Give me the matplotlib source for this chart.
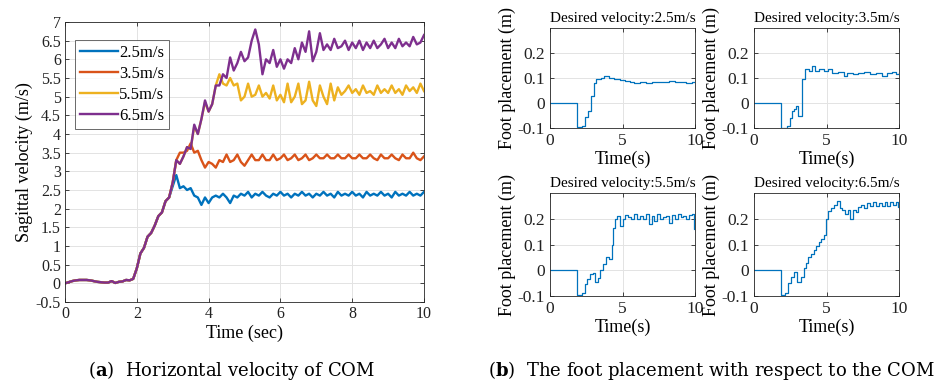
import numpy as np
import matplotlib
matplotlib.use("Agg")
import matplotlib.pyplot as plt

# ---------------- data: (a) sagittal velocity ----------------
t_common = [0.0, 0.1, 0.2, 0.3, 0.4, 0.5, 0.6, 0.7, 0.8, 0.9, 1.0, 1.1, 1.2, 1.3, 1.4,
            1.5, 1.6, 1.7, 1.8, 1.9, 2.0, 2.1, 2.2, 2.3, 2.4, 2.5, 2.6, 2.7, 2.8, 2.9]
v_common = [0.00, 0.03, 0.06, 0.08, 0.09, 0.09, 0.09, 0.08, 0.06, 0.04, 0.03, 0.02, 0.02, 0.06, 0.01,
            0.04, 0.05, 0.09, 0.08, 0.12, 0.40, 0.80, 0.95, 1.25, 1.35, 1.55, 1.80, 1.90, 2.20, 2.30]

t_late = [3.0, 3.1, 3.2, 3.3, 3.4, 3.5, 3.6, 3.7, 3.8, 3.9, 4.0, 4.1, 4.2, 4.3, 4.4, 4.5, 4.6, 4.7,
          4.8, 4.9, 5.0, 5.1, 5.2, 5.3, 5.4, 5.5, 5.6, 5.7, 5.8, 5.9, 6.0, 6.1, 6.2, 6.3, 6.4, 6.5,
          6.6, 6.7, 6.8, 6.9, 7.0, 7.1, 7.2, 7.3, 7.4, 7.5, 7.6, 7.7, 7.8, 7.9, 8.0, 8.1, 8.2, 8.3,
          8.4, 8.5, 8.6, 8.7, 8.8, 8.9, 9.0, 9.1, 9.2, 9.3, 9.4, 9.5, 9.6, 9.7, 9.8, 9.9, 10.0]

v_25 = [2.60, 2.90, 2.55, 2.60, 2.50, 2.55, 2.35, 2.30, 2.10, 2.30, 2.15, 2.30, 2.35, 2.30, 2.40, 2.30, 2.15, 2.35,
        2.30, 2.40, 2.35, 2.45, 2.30, 2.40, 2.35, 2.45, 2.35, 2.30, 2.40, 2.35, 2.45, 2.35, 2.40, 2.30, 2.40, 2.35,
        2.45, 2.35, 2.40, 2.30, 2.40, 2.35, 2.45, 2.35, 2.40, 2.30, 2.45, 2.35, 2.40, 2.35, 2.45, 2.35, 2.40, 2.30,
        2.45, 2.35, 2.40, 2.35, 2.45, 2.35, 2.40, 2.30, 2.45, 2.35, 2.40, 2.35, 2.45, 2.35, 2.40, 2.35, 2.45]

v_35 = [2.70, 3.30, 3.50, 3.50, 3.55, 3.75, 3.50, 3.55, 3.30, 3.10, 3.25, 3.20, 3.10, 3.30, 3.25, 3.45, 3.25, 3.30,
        3.45, 3.25, 3.15, 3.30, 3.45, 3.30, 3.30, 3.45, 3.30, 3.30, 3.45, 3.30, 3.35, 3.45, 3.30, 3.35, 3.45, 3.30,
        3.35, 3.45, 3.30, 3.35, 3.45, 3.35, 3.35, 3.45, 3.35, 3.35, 3.45, 3.35, 3.35, 3.45, 3.35, 3.35, 3.45, 3.35,
        3.35, 3.45, 3.35, 3.30, 3.45, 3.35, 3.35, 3.45, 3.35, 3.30, 3.45, 3.35, 3.35, 3.50, 3.35, 3.30, 3.40]

v_55 = [2.70, 3.30, 3.20, 3.40, 3.65, 3.60, 4.20, 4.00, 4.40, 4.85, 4.60, 4.80, 5.30, 5.60, 5.35, 5.30, 5.50, 5.30,
        5.35, 4.90, 5.00, 5.35, 5.00, 5.05, 5.30, 5.00, 5.10, 4.95, 5.30, 4.90, 5.05, 4.85, 5.35, 4.85, 5.00, 5.35,
        4.80, 4.90, 5.40, 4.90, 4.75, 5.30, 5.00, 4.80, 5.35, 4.90, 5.25, 5.05, 5.15, 5.30, 5.10, 5.20, 5.05, 5.30,
        5.10, 5.15, 5.05, 5.30, 5.10, 5.20, 5.10, 5.30, 5.10, 5.20, 5.05, 5.30, 5.15, 5.25, 5.10, 5.35, 5.15]

v_65 = [2.70, 3.30, 3.20, 3.40, 3.65, 3.60, 4.25, 4.00, 4.40, 4.90, 4.60, 4.80, 5.30, 5.30, 5.60, 5.50, 6.05, 5.70,
        5.90, 6.20, 5.95, 6.05, 6.50, 6.80, 6.40, 5.60, 6.00, 5.90, 6.25, 5.80, 6.00, 5.75, 6.00, 5.90, 6.30, 6.00,
        6.45, 6.20, 6.75, 5.95, 6.20, 6.70, 6.25, 6.40, 6.25, 6.55, 6.30, 6.35, 6.50, 6.25, 6.45, 6.30, 6.50, 6.25,
        6.45, 6.30, 6.50, 6.30, 6.40, 6.55, 6.30, 6.45, 6.30, 6.55, 6.35, 6.45, 6.35, 6.60, 6.40, 6.45, 6.65]

vel_labels = ["2.5m/s", "3.5m/s", "5.5m/s", "6.5m/s"]
vel_colors = ["#0072BD", "#D95319", "#EDB120", "#7E2F8E"]

# ---------------- data: (b) foot placement ----------------
fp_t_25 = [0, 1.85, 2.2, 2.4, 2.6, 2.85, 3.0, 3.2, 3.5, 3.75, 4.1, 4.4, 4.8, 5.2, 5.5, 5.8, 6.2, 6.6,
           7.0, 7.4, 7.8, 8.2, 8.6, 9.0, 9.4, 9.8, 10]
fp_v_25 = [0, -0.097, -0.09, -0.055, -0.03, 0.03, 0.08, 0.095, 0.10, 0.108, 0.10, 0.095, 0.092, 0.09,
           0.085, 0.08, 0.085, 0.082, 0.083, 0.086, 0.085, 0.088, 0.084, 0.086, 0.082, 0.085, 0.085]

fp_t_35 = [0, 1.86, 2.25, 2.45, 2.6, 2.75, 2.9, 3.05, 3.3, 3.5, 3.8, 4.0, 4.2, 4.5, 4.8, 5.1, 5.4, 5.8,
           6.2, 6.4, 6.8, 7.2, 7.6, 8.0, 8.4, 8.8, 9.2, 9.5, 9.8, 10]
fp_v_35 = [0, -0.098, -0.09, -0.06, -0.03, -0.025, -0.01, -0.05, 0.095, 0.135, 0.13, 0.148, 0.13, 0.135,
           0.13, 0.135, 0.12, 0.125, 0.11, 0.12, 0.118, 0.12, 0.125, 0.115, 0.12, 0.11, 0.12, 0.125, 0.118, 0.12]

fp_t_55 = [0, 1.85, 2.2, 2.4, 2.55, 2.75, 2.95, 3.1, 3.3, 3.45, 3.65, 3.85, 4.05, 4.25, 4.35, 4.5, 4.65,
           4.8, 5.0, 5.2, 5.4, 5.6, 5.8, 6.0, 6.2, 6.4, 6.6, 6.8, 7.0, 7.2, 7.4, 7.6, 7.8, 8.0, 8.2, 8.4,
           8.6, 8.8, 9.0, 9.2, 9.4, 9.6, 9.8, 9.95, 10]
fp_v_55 = [0, -0.097, -0.09, -0.055, -0.035, -0.015, -0.01, -0.045, -0.03, 0.0, 0.025, 0.05, 0.045, 0.1,
           0.165, 0.2, 0.21, 0.17, 0.2, 0.215, 0.205, 0.2, 0.22, 0.2, 0.21, 0.2, 0.22, 0.18, 0.21, 0.19,
           0.22, 0.2, 0.205, 0.21, 0.185, 0.215, 0.2, 0.22, 0.205, 0.21, 0.2, 0.215, 0.22, 0.16, 0.16]

fp_t_65 = [0, 1.86, 2.16, 2.32, 2.55, 2.78, 2.94, 3.24, 3.47, 3.6, 3.75, 3.95, 4.15, 4.3, 4.45, 4.6, 4.8,
           4.97, 5.1, 5.3, 5.5, 5.7, 5.9, 6.1, 6.3, 6.45, 6.6, 6.8, 7.0, 7.2, 7.4, 7.6, 7.8, 8.0, 8.2, 8.4,
           8.6, 8.8, 9.0, 9.2, 9.4, 9.6, 9.8, 9.95, 10]
fp_v_65 = [0, -0.097, -0.09, -0.05, -0.025, -0.008, -0.045, -0.025, 0.01, 0.03, 0.05, 0.065, 0.08, 0.095,
           0.11, 0.12, 0.135, 0.2, 0.23, 0.24, 0.255, 0.27, 0.24, 0.235, 0.22, 0.235, 0.2, 0.235, 0.225,
           0.245, 0.255, 0.24, 0.26, 0.25, 0.265, 0.25, 0.26, 0.25, 0.265, 0.25, 0.265, 0.255, 0.265, 0.245, 0.245]

fp_titles = ["Desired velocity:2.5m/s", "Desired velocity:3.5m/s",
             "Desired velocity:5.5m/s", "Desired velocity:6.5m/s"]

# ---------------- drawing ----------------
SERIF = ["Liberation Serif", "DejaVu Serif"]
plt.rcParams["font.family"] = SERIF
plt.rcParams["mathtext.fontset"] = "dejavuserif"
W, H = 946, 385
fig = plt.figure(figsize=(W / 100, H / 100), dpi=100)

AXC = "#262626"
GRIDC = "#e3e3e3"


def px_axes(x0, y0, x1, y1):
    return fig.add_axes([x0 / W, 1 - y1 / H, (x1 - x0) / W, (y1 - y0) / H])


def style(ax):
    for s in ax.spines.values():
        s.set_color(AXC)
        s.set_linewidth(0.6)
    ax.tick_params(direction="in", top=True, right=True, color=AXC, length=3, width=0.6,
                   labelcolor="#222222")
    ax.grid(True, color=GRIDC, linewidth=0.7)
    ax.set_axisbelow(True)


# (a)
ax = px_axes(65, 22, 424, 302)
style(ax)
series = [v_25, v_35, v_55, v_65]
for vals, lab, col in zip(series, vel_labels, vel_colors):
    ax.plot(t_common + t_late, v_common + vals, color=col, lw=1.7, label=lab)
ax.set_xlim(0, 10)
ax.set_ylim(-0.5, 7)
ax.set_xticks([0, 2, 4, 6, 8, 10])
yt = [-0.5, 0, 0.5, 1, 1.5, 2, 2.5, 3, 3.5, 4, 4.5, 5, 5.5, 6, 6.5, 7]
ax.set_yticks(yt)
ax.set_yticklabels([("%g" % v) for v in yt])
ax.tick_params(labelsize=11.5, pad=3)
ax.set_xlabel("Time (sec)", fontsize=13, labelpad=2)
ax.set_ylabel("Sagittal velocity (m/s)", fontsize=13, labelpad=2)
leg = ax.legend(loc="upper left", bbox_to_anchor=(0.028, 0.936), fontsize=12,
                frameon=True, fancybox=False, handlelength=2.3, handletextpad=0.05,
                borderpad=0.3, labelspacing=0.3, borderaxespad=0)
leg.get_frame().set_edgecolor(AXC)
leg.get_frame().set_linewidth(0.6)

# (b)
boxes = [(550, 28, 695, 128), (754, 28, 899, 128), (550, 193, 695, 296), (754, 193, 899, 296)]
fp_data = [(fp_t_25, fp_v_25), (fp_t_35, fp_v_35), (fp_t_55, fp_v_55), (fp_t_65, fp_v_65)]
for (x0, y0, x1, y1), (tt, vv), ttl in zip(boxes, fp_data, fp_titles):
    a = px_axes(x0, y0, x1, y1)
    style(a)
    a.plot(tt, vv, drawstyle="steps-post", color="#0072BD", lw=0.9)
    a.set_xlim(0, 10)
    a.set_ylim(-0.1, 0.3)
    a.set_xticks([0, 5, 10])
    a.set_yticks([-0.1, 0, 0.1, 0.2])
    a.set_yticklabels(["-0.1", "0", "0.1", "0.2"])
    a.tick_params(labelsize=12.5)
    a.set_title(ttl, fontsize=11, pad=4)
    a.set_xlabel("Time(s)", fontsize=13, labelpad=1)
    a.set_ylabel("Foot placement (m)", fontsize=13, labelpad=1)

# captions
fig.text(232 / W, 1 - 370 / H, r"($\mathbf{a}$)  Horizontal velocity of COM", ha="center",
         va="center", fontsize=13, family=["DejaVu Serif"])
fig.text(711 / W, 1 - 370 / H, r"($\mathbf{b}$)  The foot placement with respect to the COM",
         ha="center", va="center", fontsize=13, family=["DejaVu Serif"])

fig.savefig("out.png", dpi=100)
